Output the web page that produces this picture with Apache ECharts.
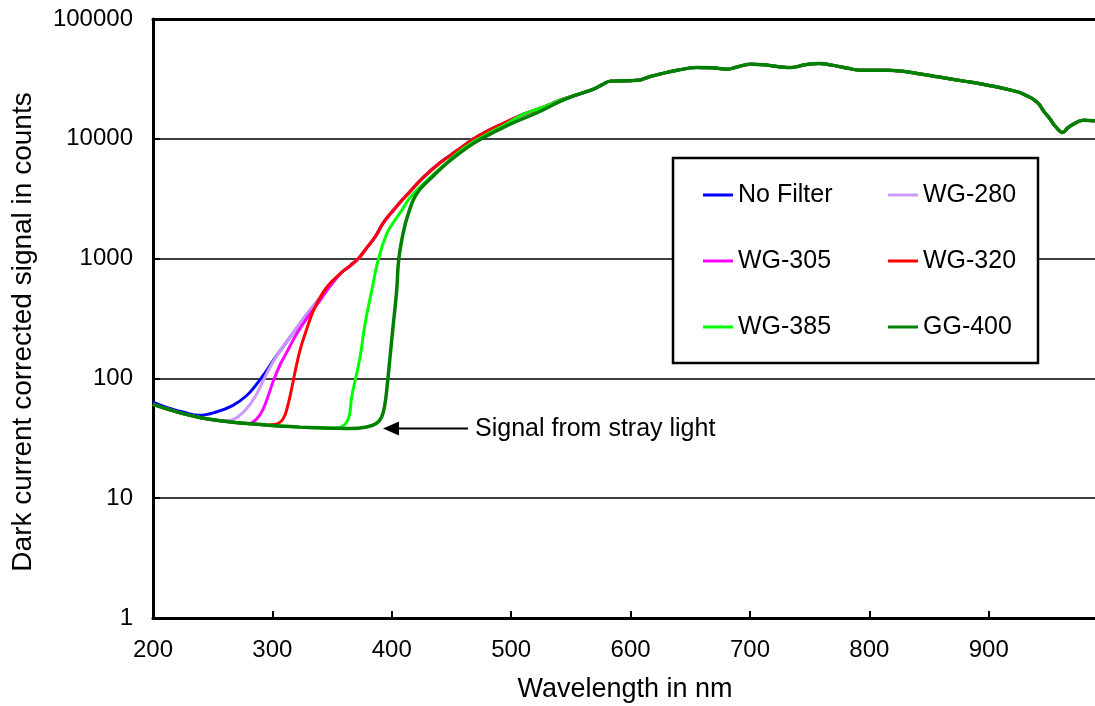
<!DOCTYPE html>
<html>
<head>
<meta charset="utf-8">
<script src="https://cdn.jsdelivr.net/npm/echarts@6/dist/echarts.min.js"></script>
<style>
html,body{margin:0;padding:0;background:#fff;}
#chart{width:1095px;height:706px;}
</style>
</head>
<body>
<div id="chart"></div>
<script>
// ---- data (wavelength nm, counts) ----
const seriesNames = ['No Filter', 'WG-280', 'WG-305', 'WG-320', 'WG-385', 'GG-400'];
const xTickLabels = [200, 300, 400, 500, 600, 700, 800, 900];
const yTickLabels = [1, 10, 100, 1000, 10000, 100000];

// common stray-light floor shared by the filtered curves
const baseline = [[200,60.7],[212,55.5],[225,50.8],[240,47],[253,44.7],[267,43],[281,41.9],[295,40.8],[309,39.8],[323,39.2],[337,38.8],[351,38.4],[365,38.1],[379,39.3],[387,42]];

// unfiltered curve below the common part
const noFilterLow = [[200,63.5],[212,57],[225,52.4],[239,49.2],[253,52.4],[267,59.6],[278.5,72],[287,90],[294,112],[303.6,155],[317.5,240],[331.5,369],[345.5,545]];

// rising edges of each filter
const wg280Rise = [[262,44.5],[270,47],[278.5,56],[285.4,70],[291,90],[298,124],[306.4,170],[317.5,240],[331.5,369],[345.5,545]];
const wg305Rise = [[280,42],[287,46],[292.4,56],[296.6,72],[300.8,95],[306.4,130],[312,165],[320.4,236],[331.5,346],[340,447],[345.5,540]];
const wg320Rise = [[302,41.2],[309,46],[313.3,61.5],[316.1,82],[318.9,112],[323,170],[328,245],[335.7,393],[345.5,577]];
const wg385Rise = [[357,39],[363.6,46],[366.4,70],[369.2,95],[373.4,150],[377.6,285],[383.2,541],[388.7,981],[395.7,1607],[401.3,2000],[408,2500],[415,3200],[429,4467],[445,6200],[460,8300],[475,10300],[496,13300]];
const gg400Rise = [[391.5,47.6],[394.3,61.5],[396.2,88],[398.5,150],[401.3,285],[404.1,541],[405.8,981],[409.6,1650],[414,2400],[421,3500],[435,4920],[448.7,6560],[468.3,9140],[496.2,12820],[524,16900],[541,20500]];

// common lamp spectrum (all curves)
const mainMid = [[356.6,745],[365,871],[372,1000],[379,1230],[386,1514],[393,1995],[401,2512],[412.5,3388],[426.4,4760],[440.4,6310],[454.4,7943],[468.3,9950]];
const upper = [[480,11600],[496,13800],[510,16000],[524,17900],[541,21000],[555,23300],[569,26000],[576,28200],[583,30300],[595,30500],[606,30800],[616,33000],[626,35000],[640,37500],[655,39300],[668,39200],[681,38100],[690,40000],[701,41870],[712,41500],[724,40000],[735,39300],[746,41500],[758,42500],[770,41000],[782,38800],[792,37350],[815,37350],[826,36800],[844,34600],[853,33500],[862,32300],[882,30000],[895,28500],[909,26780],[925,24500],[932,22800],[937,21500],[942,19500],[946,17000],[951,14800],[955,13000],[962,11290],[966,12300],[971,13250],[979,14310],[989,14125]];

const colors = ['#0000FF', '#CC99FF', '#FF00FF', '#FF0000', '#00FF00', '#008000'];

const common = mainMid.concat(upper);
function compose(rise) {
  const start = rise[0][0], end = rise[rise.length - 1][0];
  return baseline.filter(p => p[0] < start - 4).concat(rise, common.filter(p => p[0] > end + 4));
}
const seriesData = [
  noFilterLow.concat(common),
  compose(wg280Rise),
  compose(wg305Rise),
  compose(wg320Rise),
  compose(wg385Rise),
  compose(gg400Rise)
];

const FONT = 'Liberation Sans, Arial, sans-serif';
const chart = echarts.init(document.getElementById('chart'), null, {renderer: 'canvas'});

const legendBase = {
  orient: 'vertical', top: 180, padding: 0, itemGap: 36,
  icon: 'rect', itemWidth: 30, itemHeight: 3, itemTextGap: 4,
  selectedMode: false, z: 10,
  textStyle: {color: '#000', fontSize: 25, fontFamily: FONT, lineHeight: 30}
};

chart.setOption({
  animation: false,
  backgroundColor: '#fff',
  grid: {left: 153, right: 0, top: 19, bottom: 88, containLabel: false, outerBoundsMode: 'none'},
  xAxis: [{
    type: 'value', min: 200, max: 989, interval: 100,
    axisLine: {show: true, lineStyle: {color: '#000', width: 3}},
    axisTick: {show: true, inside: true, length: 7, lineStyle: {color: '#000', width: 2}},
    splitLine: {show: false},
    axisLabel: {
      color: '#000', fontSize: 24, fontFamily: FONT, margin: 20, showMaxLabel: false,
      formatter: v => xTickLabels.indexOf(Math.round(v)) >= 0 ? String(Math.round(v)) : ''
    }
  }, {
    type: 'value', min: 200, max: 989, position: 'top',
    axisLine: {show: true, lineStyle: {color: '#000', width: 3}},
    axisTick: {show: false}, axisLabel: {show: false}, splitLine: {show: false}
  }],
  yAxis: {
    type: 'log', logBase: 10, min: 1, max: 100000,
    axisLine: {show: true, lineStyle: {color: '#000', width: 3}},
    axisTick: {show: true, inside: true, length: 7, lineStyle: {color: '#000', width: 2}},
    minorTick: {show: false},
    splitLine: {show: true, lineStyle: {color: '#000', width: 1.5}},
    axisLabel: {
      color: '#000', fontSize: 24, fontFamily: FONT, margin: 20,
      formatter: v => {
        const r = Math.round(v);
        return yTickLabels.indexOf(r) >= 0 ? String(r) : '';
      }
    }
  },
  legend: [
    Object.assign({}, legendBase, {left: 703, data: [seriesNames[0], seriesNames[2], seriesNames[4]]}),
    Object.assign({}, legendBase, {left: 888, data: [seriesNames[1], seriesNames[3], seriesNames[5]]})
  ],
  graphic: [
    {type: 'rect', z: 3, shape: {x: 673, y: 158, width: 365, height: 205},
     style: {fill: '#fff', stroke: '#000', lineWidth: 2.5}},
    {type: 'text', z: 20, x: 23, y: 332, rotation: Math.PI / 2,
     style: {text: 'Dark current corrected signal in counts', fill: '#000', fontSize: 28, fontFamily: FONT, align: 'center', verticalAlign: 'middle'}},
    {type: 'text', z: 20, x: 625, y: 690,
     style: {text: 'Wavelength in nm', fill: '#000', fontSize: 27, fontFamily: FONT, align: 'center', verticalAlign: 'middle'}},
    {type: 'line', z: 20, shape: {x1: 396, y1: 428.5, x2: 468, y2: 428.5}, style: {stroke: '#000', lineWidth: 2}},
    {type: 'polygon', z: 20, shape: {points: [[383, 428.5], [399, 421.5], [399, 435.5]]}, style: {fill: '#000'}},
    {type: 'text', z: 20, x: 475, y: 429,
     style: {text: 'Signal from stray light', fill: '#000', fontSize: 25, fontFamily: FONT, align: 'left', verticalAlign: 'middle'}}
  ],
  series: seriesNames.map((name, i) => ({
    name: name, type: 'line', data: seriesData[i],
    showSymbol: false, symbol: 'none', smooth: 0.4,
    color: colors[i],
    lineStyle: {color: colors[i], width: i === 5 ? 3.5 : 3},
    itemStyle: {color: colors[i]},
    z: 2 + i
  }))
});
</script>
</body>
</html>
